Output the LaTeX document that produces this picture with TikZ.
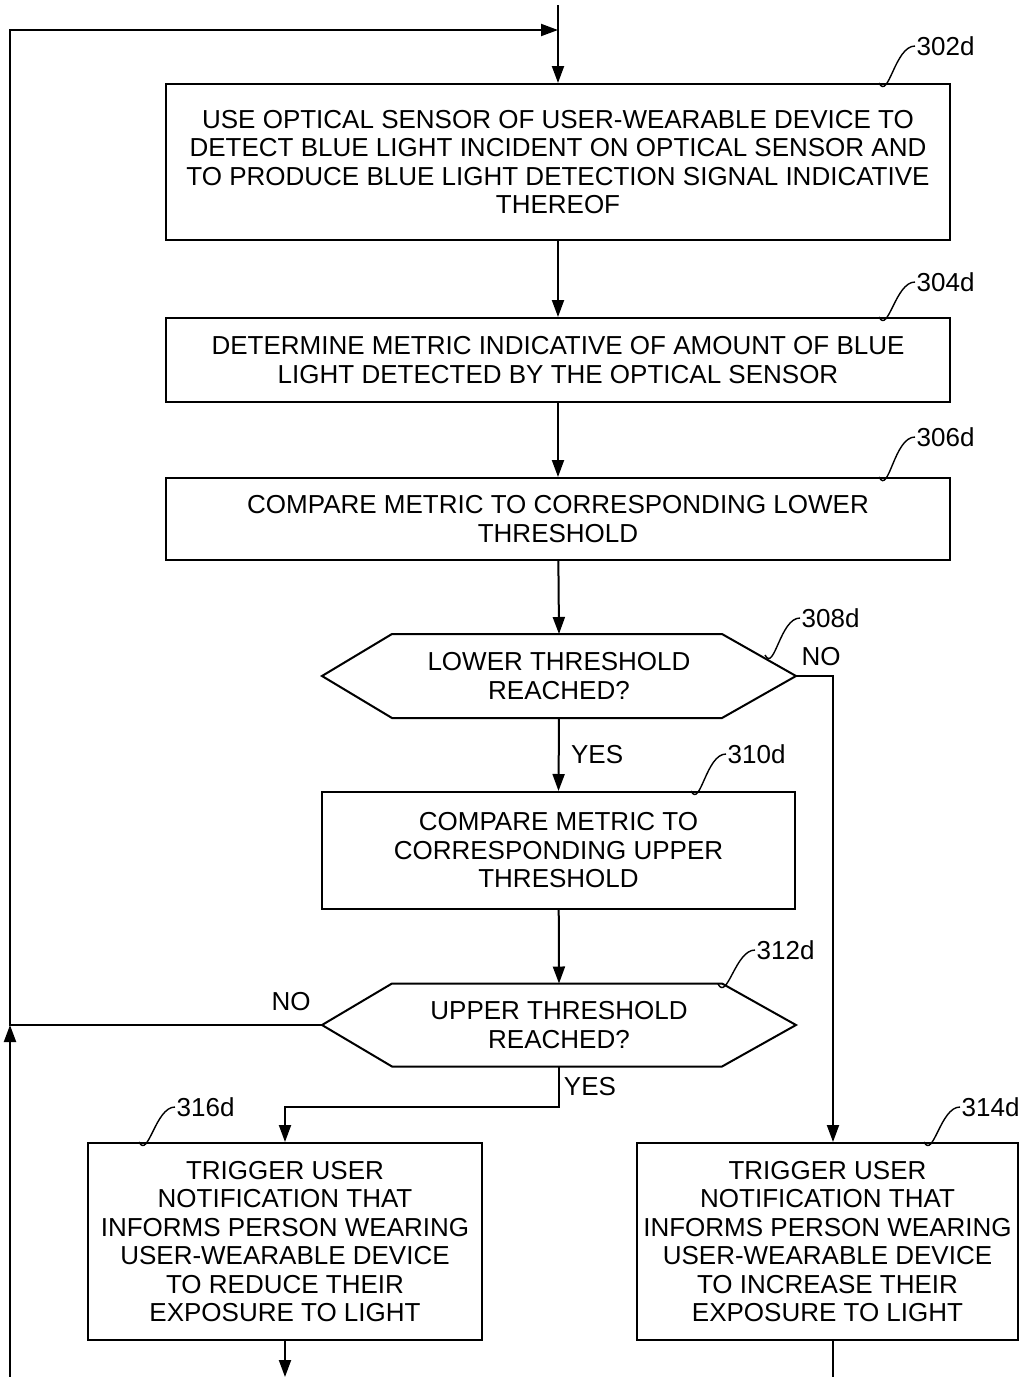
\documentclass[tikz,border=0pt]{standalone}
\usepackage{fontspec}
\setmainfont{Liberation Sans}
\usetikzlibrary{arrows.meta}
\begin{document}
\begin{tikzpicture}[x=1pt,y=-1pt,
  line width=2pt,
  every node/.style={font=\fontsize{26}{28.5}\selectfont},
  stepbox/.style={draw, rectangle, align=center, inner sep=0pt},
  decbox/.style={rectangle, align=center, inner sep=0pt, minimum width=472pt},
  arr/.style={-{Triangle[length=17pt,width=12pt]}},
  lead/.style={line width=1.4pt},
  lbl/.style={right, inner sep=1pt}]
\useasboundingbox (0,0) rectangle (1021,1377);

\node[stepbox, minimum width=784pt, minimum height=156pt] (b302) at (558,162)
 {USE OPTICAL SENSOR OF USER-WEARABLE DEVICE TO\\DETECT BLUE LIGHT INCIDENT ON OPTICAL SENSOR AND\\TO PRODUCE BLUE LIGHT DETECTION SIGNAL INDICATIVE\\THEREOF};
\node[stepbox, minimum width=784pt, minimum height=84pt] (b304) at (558,360)
 {DETERMINE METRIC INDICATIVE OF AMOUNT OF BLUE\\LIGHT DETECTED BY THE OPTICAL SENSOR};
\node[stepbox, minimum width=784pt, minimum height=82pt] (b306) at (558,519)
 {COMPARE METRIC TO CORRESPONDING LOWER\\THRESHOLD};
\node[decbox, minimum height=82pt] (d308) at (559,676) {LOWER THRESHOLD\\REACHED?};
\node[stepbox, minimum width=473pt, minimum height=117pt] (b310) at (558.5,850.5)
 {COMPARE METRIC TO\\CORRESPONDING UPPER\\THRESHOLD};
\node[decbox, minimum height=81pt] (d312) at (559,1025) {UPPER THRESHOLD\\REACHED?};
\node[stepbox, minimum width=394pt, minimum height=197pt] (b316) at (285,1241.5)
 {TRIGGER USER\\NOTIFICATION THAT\\INFORMS PERSON WEARING\\USER-WEARABLE DEVICE\\TO REDUCE THEIR\\EXPOSURE TO LIGHT};
\node[stepbox, minimum width=381pt, minimum height=197pt] (b314) at (827.5,1241.5)
 {TRIGGER USER\\NOTIFICATION THAT\\INFORMS PERSON WEARING\\USER-WEARABLE DEVICE\\TO INCREASE THEIR\\EXPOSURE TO LIGHT};

% hexagons
\foreach \d in {d308,d312}{
  \draw (\d.west) -- ([xshift=70pt]\d.north west) -- ([xshift=-74pt]\d.north east)
    -- (\d.east) -- ([xshift=-74pt]\d.south east) -- ([xshift=70pt]\d.south west) -- cycle;
}

% coordinates
\coordinate (top) at (558,5);
\coordinate (lt) at (10,30);
\coordinate (loopin) at (558,30);
\coordinate (lb) at (10,1377);
\coordinate (e316) at (285,1377);
\coordinate (e314) at (833,1377);

% connectors
\draw[arr] (top) -- (b302);
\draw[arr] (b302) -- (b304);
\draw[arr] (b304) -- (b306);
\draw[arr] (b306) -- (d308.north);
\draw[arr] (d308.south) -- (b310.north) node[pos=0.5, right, xshift=8pt] {YES};
\draw[arr] (b310) -- (d312.north);
\draw[arr] (d308.east) -| ([xshift=5.5pt]b314.north);
\node at (821,657) (no1) {NO};
\draw[arr] (d312.west) -| (lt) -- (loopin);
\node at (291,1002) (no2) {NO};
\draw[arr] (lb) -- (lb |- d312.west);
\draw[arr] (d312.south) -- ++(0,40) coordinate (yb) -| (b316.north);
\node at (590,1087) (yes2) {YES};
\draw[arr] (b316.south) -- (e316);
\draw ([xshift=5.5pt]b314.south) -- (e314);

% reference leaders
\draw[lead] ([xshift=-72pt]b302.north east) to[out=-62,in=180] ++(36,-37) node[lbl] (l302) {302d};
\draw[lead] ([xshift=-72pt]b304.north east) to[out=-62,in=180] ++(36,-35) node[lbl] (l304) {304d};
\draw[lead] ([xshift=-72pt]b306.north east) to[out=-62,in=180] ++(36,-40) node[lbl] (l306) {306d};
\draw[lead] (765,655) to[out=-62,in=180] ++(35,-37) node[lbl] (l308) {308d};
\draw[lead] ([xshift=-105pt]b310.north east) to[out=-62,in=180] ++(35,-37) node[lbl] (l310) {310d};
\draw[lead] (718,984) to[out=-62,in=180] ++(37,-34) node[lbl] (l312) {312d};
\draw[lead] ([xshift=52pt]b316.north west) to[out=-62,in=180] ++(36,-35) node[lbl] (l316) {316d};
\draw[lead] ([xshift=-95pt]b314.north east) to[out=-62,in=180] ++(36,-35) node[lbl] (l314) {314d};
\end{tikzpicture}
\end{document}
